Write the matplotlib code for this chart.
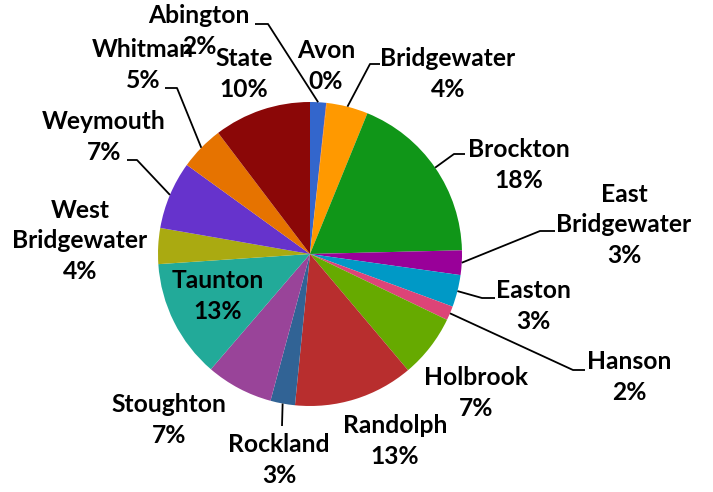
import matplotlib
matplotlib.use("Agg")
import matplotlib.pyplot as plt
import numpy as np

# Share of total by town
towns = ["Abington", "Avon", "Bridgewater", "Brockton", "East\nBridgewater",
         "Easton", "Hanson", "Holbrook", "Randolph", "Rockland", "Stoughton",
         "Taunton", "West\nBridgewater", "Weymouth", "Whitman", "State"]
values = [1.7, 0.05, 4.4, 18.4, 2.6, 3.4, 1.5, 6.7, 12.7, 2.6, 7.1,
          12.6, 3.8, 7.2, 4.7, 10.3]
colors = ["#3366CC", "#DC3912", "#FF9900", "#109618", "#990099", "#0099C6",
          "#DD4477", "#66AA00", "#B82E2E", "#316395", "#994499", "#22AA99",
          "#AAAA11", "#6633CC", "#E67300", "#8B0707"]

W, H = 713, 492
CX, CY, R = 310, 254, 152  # pie centre and radius in pixels


def px(x, y):
    """Pixel position -> axes data units (pie radius = 1)."""
    return (x - CX) / R, (CY - y) / R


# label block centres (pixels)
label_pos = {
    "Abington": (199, 31), "Avon": (326, 66), "Bridgewater": (448, 74),
    "Brockton": (519, 165), "East\nBridgewater": (624, 225),
    "Easton": (533, 306), "Hanson": (629, 377), "Holbrook": (476, 393),
    "Randolph": (395, 441), "Rockland": (279, 460), "Stoughton": (169, 420),
    "Taunton": (218, 296), "West\nBridgewater": (80, 241),
    "Weymouth": (104, 137), "Whitman": (143, 65), "State": (244, 74),
}
# leader elbows (pixels): start near the label, then run to the slice edge
leaders = {
    "Abington": [(255, 24), (268, 24)],
    "Bridgewater": [(380, 64), (370, 64)],
    "Brockton": [(465, 154), (454, 154)],
    "East\nBridgewater": [(555, 231), (540, 231)],
    "Easton": [(495, 298), (482, 298)],
    "Hanson": [(585, 370), (573, 370)],
    "Rockland": [(282, 426)],
    "Weymouth": [(127, 160), (137, 160)],
    "Whitman": [(165, 88), (177, 88)],
}

fig = plt.figure(figsize=(W / 100, H / 100), dpi=100)
ax = fig.add_axes([0, 0, 1, 1])

wedges, _ = ax.pie(values, colors=colors, startangle=90, counterclock=False,
                   radius=1, center=(0, 0), wedgeprops=dict(linewidth=0))

ax.set_xlim(-CX / R, (W - CX) / R)
ax.set_ylim(-(H - CY) / R, CY / R)
ax.set_aspect("equal")
ax.axis("off")

total = sum(values)
font = dict(family=["Lato", "DejaVu Sans"], fontweight="bold", fontsize=17.7,
            color="black", ha="center", va="center", linespacing=1.42)

for town, val, w in zip(towns, values, wedges):
    pct = val / total * 100
    tx, ty = px(*label_pos[town])
    ax.text(tx, ty, f"{town}\n{pct:.0f}%", zorder=5, **font)
    if town in leaders:
        mid = np.deg2rad((w.theta1 + w.theta2) / 2)
        ex, ey = np.cos(mid), np.sin(mid)
        pts = [px(*p) for p in leaders[town]] + [(ex, ey)]
        xs, ys = zip(*pts)
        ax.plot(xs, ys, color="black", lw=1.3, zorder=4,
                solid_capstyle="butt")

fig.savefig("out.png", dpi=100)
